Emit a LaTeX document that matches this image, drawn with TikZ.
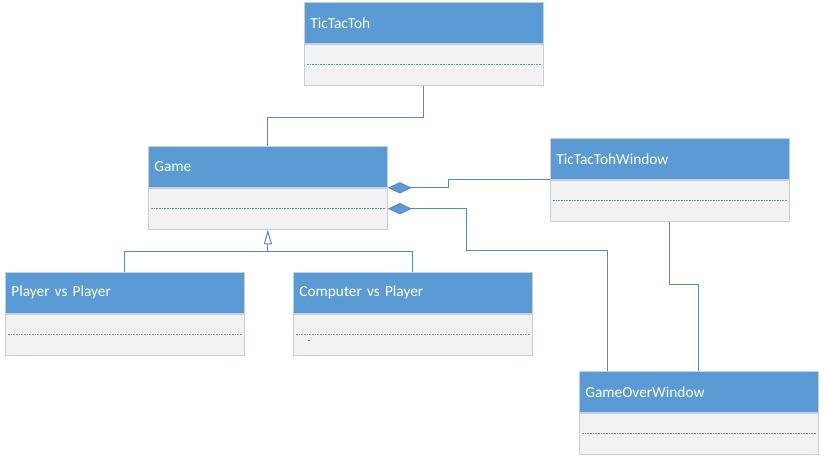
\documentclass[tikz,border=0pt]{standalone}
\usepackage{fontspec}
\setmainfont{Carlito}
\usetikzlibrary{arrows.meta,calc}
\definecolor{hdrblue}{HTML}{5B9BD5}
\definecolor{bodygray}{HTML}{F2F2F2}
\definecolor{edgegray}{HTML}{C5D0DC}
\definecolor{linkblue}{HTML}{5A8AC6}
\tikzset{
  classhead/.style={draw=edgegray, fill=hdrblue, text=white, line width=0.6pt,
    minimum width=179.25pt, text width=170.25pt, inner xsep=4.5pt,
    minimum height=30.75pt, align=left, font=\fontsize{11.5}{13}\selectfont},
  classbody/.style={draw=edgegray, fill=bodygray, line width=0.6pt,
    minimum width=179.25pt, minimum height=30.75pt, inner sep=0pt},
  attrline/.style={draw=hdrblue, dash pattern=on 1.2pt off 0.8pt, line width=0.6pt},
  link/.style={draw=linkblue, line width=0.75pt},
  comp/.style={link, -{Diamond[length=18pt, width=8.5pt, fill=hdrblue]}},
  inherit/.style={link, -{Triangle[open, length=11pt, width=6pt]}}
}
% one class box: header with name, body with a dashed separator
\newcommand{\umlclass}[3]{%
  \node[classhead, anchor=north west] (#1) at (#2) {#3};
  \node[classbody, anchor=north] (#1-b) at (#1.south) {};
  \draw[attrline] ($(#1-b.west)+(3,0)$) -- ($(#1-b.east)+(-3,0)$);
}
\begin{document}
\begin{tikzpicture}[x=0.75pt,y=0.75pt,yscale=-1,xscale=1]
    \useasboundingbox (0,0) rectangle (825,461);
    % Classes
    \umlclass{tictactoh}{304,2}{TicTacToh}
    \umlclass{game}{148,146}{Game}
    \umlclass{window}{550,138}{TicTacTohWindow}
    \umlclass{pvp}{5,272}{Player vs Player}
    \umlclass{cvp}{293,272}{Computer vs Player}
    \umlclass{gameover}{579,371}{GameOverWindow}
    % Text Node
    \node[font=\scriptsize, text=black!70, inner sep=0pt] (cvpdash) at (309,342) {-};
    % Association lines
    \draw[link] (tictactoh-b.south) -- ++(0,32) -| (game.north);
    \draw[link] (window-b.south) -- ++(0,63) -| (gameover.north);
    % Compositions
    \draw[comp] (window.south west) -- ++(-102,0) |- (game.south east);
    \draw[comp] ($(gameover.north west)+(28,0)$) |- (466,250) |- (game-b.east);
    % Generalization
    \draw[link] (pvp.north) -- ++(0,-21) -| (cvp.north);
    \draw[inherit] (game-b.south |- 0,251) -- (game-b.south);
\end{tikzpicture}
\end{document}
